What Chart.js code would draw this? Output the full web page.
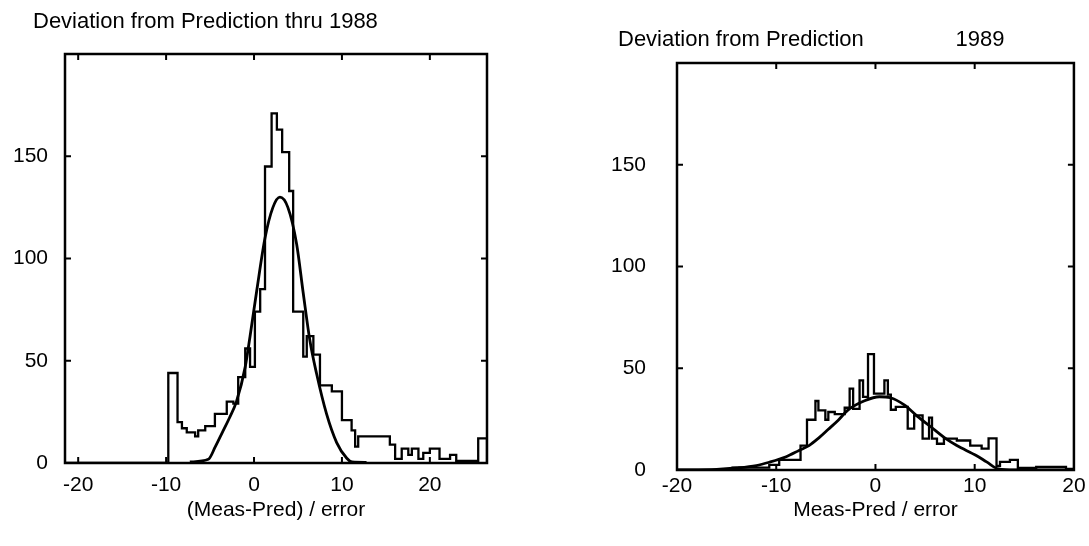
<!DOCTYPE html>
<html>
<head>
<meta charset="utf-8">
<script src="https://cdn.jsdelivr.net/npm/chart.js@4.4.1/dist/chart.umd.min.js"></script>
<style>
  body { margin: 0; background: #fff; }
  .panel { position: absolute; top: 0; height: 546px; }
  #left { left: 0; width: 545px; }
  #right { left: 545px; width: 544px; }
</style>
</head>
<body>
<div class="panel" id="left"><canvas id="chart88"></canvas></div>
<div class="panel" id="right"><canvas id="chart89"></canvas></div>
<script>
// Tick labels (same on both panels)
const xTickValues = [-20, -10, 0, 10, 20];
const yTickValues = [0, 50, 100, 150];

// Thru 1988: histogram bin left edges and counts (count i holds from edge i to edge i+1)
const edges88 = [-21.5, -9.75, -8.7, -8.2, -7.65, -6.7, -6.35, -5.55, -4.45, -3.1, -2.35, -1.8, -1.0, -0.45, 0.1, 0.7,
  1.25, 2.0, 2.6, 3.2, 4.0, 4.45, 5.6, 6.0, 6.75, 7.5, 8.85, 10.0, 11.1, 11.5, 11.85, 15.45, 16.05, 16.8, 17.55,
  17.95, 18.7, 19.25, 20.0, 21.1, 22.3, 23.0, 25.5, 26.5];
const counts88 = [0, 44, 20, 17, 15, 13, 16, 18, 24, 30, 29, 42, 56, 47, 74, 85,
  145, 171, 163, 152, 133, 74, 52, 62, 53, 38, 35, 21, 16, 8, 13, 9, 2, 7, 4,
  7, 2, 5, 7, 2, 4, 1, 12, 0];
// fitted curve, 1988
const fitX88 = [-7.3, -5.2, -4.4, -3.6, -2.8, -2.0, -1.0, -0.45, 0.3, 1.25, 2.15, 2.95, 3.85, 4.85, 5.6, 6.35,
  7.1, 8.25, 9.4, 10.55, 11.15, 12.8];
const fit88 = [0.5, 1.8, 8, 15, 22, 30, 47, 62, 84, 110, 125, 130, 125, 107, 83, 60,
  44, 24, 10, 2.3, 0.5, 0.3];

// 1989
const edges89 = [-20, -14.4, -10.7, -9.7, -7.55, -6.9, -6.05, -5.75, -5.05, -4.75, -4.1, -3.1, -2.6, -2.25,
  -1.6, -1.25, -0.75, -0.15, 0.9, 1.25, 1.55, 2.05, 3.25, 3.9, 4.75, 5.4, 5.7, 6.2, 6.9, 8.2, 9.55, 10.7,
  11.4, 12.2, 12.55, 13.55, 14.35, 16.2, 19.2, 20];
const counts89 = [0, 1.2, 2.5, 5, 12, 24.7, 33.9, 29.3, 24.7, 28.5, 27.5, 30.6, 40, 30,
  44, 35.9, 56.9, 37.5, 44, 37, 29.6, 31, 20.3, 26.8, 15.4, 25.7, 15.4, 12.9, 15.4, 14.5, 12, 10.5,
  15.5, 2, 4, 5, 1, 1.5, 0.5, 0];
const fitX89 = [-20, -16, -14, -12, -10.7, -9, -7.7, -6.7, -5.7, -4.75, -3.75, -2.75, -1.1, 0.4, 1.5, 2.9,
  4.2, 5.5, 7.2, 8.2, 10.2, 11.2, 12.4, 14, 20];
const fit89 = [0, 0.3, 1, 2.2, 3.8, 6.5, 9.6, 12, 15.8, 20, 24.5, 29.5, 34, 36, 35.5, 32,
  26.5, 21.5, 15, 12, 7, 4, 0.5, 0, 0];

Chart.defaults.font.family = '"Liberation Sans", Arial, Helvetica, sans-serif';
Chart.defaults.color = '#000';

// box round the plot, with short ticks pointing inwards on all four sides
const framePlugin = {
  id: 'frame',
  afterLayout(chart, args, opts) {
    // title starts a bit right of the canvas edge
    if (chart.titleBlock) chart.titleBlock.left = opts.titleX;
  },
  afterDatasetsDraw(chart) {
    const { ctx, chartArea: a, scales: { x, y } } = chart;
    const len = 6;
    ctx.save();
    ctx.strokeStyle = '#000';
    ctx.lineWidth = 2.5;
    ctx.strokeRect(a.left, a.top, a.right - a.left, a.bottom - a.top);
    ctx.lineWidth = 2;
    ctx.beginPath();
    x.ticks.forEach(t => {
      const px = x.getPixelForValue(t.value);
      if (px <= a.left + 2 || px >= a.right - 2) return;
      ctx.moveTo(px, a.bottom); ctx.lineTo(px, a.bottom - len);
      ctx.moveTo(px, a.top); ctx.lineTo(px, a.top + len);
    });
    y.ticks.forEach(t => {
      const py = y.getPixelForValue(t.value);
      if (py >= a.bottom - 2 || py <= a.top + 2) return;
      ctx.moveTo(a.left, py); ctx.lineTo(a.left + len, py);
      ctx.moveTo(a.right, py); ctx.lineTo(a.right - len, py);
    });
    ctx.stroke();
    ctx.restore();
  }
};

function toPoints(xs, ys) {
  return xs.map((v, i) => ({ x: v, y: ys[i] }));
}

function makeChart(id, p) {
  return new Chart(document.getElementById(id), {
    type: 'line',
    data: {
      datasets: [
        {
          label: 'counts',
          data: toPoints(p.edges, p.counts),
          stepped: true,
          borderColor: '#000',
          borderWidth: 2.3,
          pointRadius: 0,
          fill: false
        },
        {
          label: 'fit',
          data: toPoints(p.fitX, p.fit),
          cubicInterpolationMode: 'monotone',
          borderColor: '#000',
          borderWidth: 2.8,
          pointRadius: 0,
          fill: false
        }
      ]
    },
    options: {
      responsive: true,
      maintainAspectRatio: false,
      animation: false,
      layout: { padding: { left: 0, right: p.padRight, top: 0, bottom: 0 } },
      plugins: {
        legend: { display: false },
        tooltip: { enabled: false },
        frame: { titleX: p.titleX },
        title: {
          display: true,
          text: p.title,
          align: 'start',
          font: { size: 22, weight: 'normal' },
          padding: { top: p.titleTop, bottom: p.titleBottom }
        }
      },
      scales: {
        x: {
          type: 'linear',
          min: p.xMin,
          max: p.xMax,
          grid: { display: false, drawTicks: false },
          border: { display: false },
          afterBuildTicks: s => { s.ticks = xTickValues.map(v => ({ value: v })); },
          afterFit: s => { s.height = p.xHeight; },
          ticks: { font: { size: 21 }, padding: p.xTickPad, maxRotation: 0, autoSkip: false },
          title: {
            display: true,
            text: p.xTitle,
            font: { size: 21 },
            padding: { top: 0, bottom: 23.4 }
          }
        },
        y: {
          min: 0,
          max: 200,
          grid: { display: false, drawTicks: false },
          border: { display: false },
          afterBuildTicks: s => { s.ticks = yTickValues.map(v => ({ value: v })); },
          afterFit: s => { s.width = p.yWidth; },
          ticks: { font: { size: 21 }, padding: p.yTickPad }
        }
      }
    },
    plugins: [framePlugin]
  });
}

makeChart('chart88', {
  edges: edges88, counts: counts88, fitX: fitX88, fit: fit88,
  title: 'Deviation from Prediction thru 1988',
  xTitle: '(Meas-Pred) / error',
  xMin: -21.5, xMax: 26.5,
  titleX: 33, padRight: 58, yWidth: 65, yTickPad: 17,
  titleTop: 9, titleBottom: 18.6,
  xHeight: 83, xTickPad: 9.4
});

makeChart('chart89', {
  edges: edges89, counts: counts89, fitX: fitX89, fit: fit89,
  title: 'Deviation from Prediction               1989',
  xTitle: 'Meas-Pred / error',
  xMin: -20, xMax: 20,
  titleX: 73, padRight: 11, yWidth: 132, yTickPad: 31,
  titleTop: 26.8, titleBottom: 9.8,
  xHeight: 76, xTickPad: 3.4
});
</script>
</body>
</html>
